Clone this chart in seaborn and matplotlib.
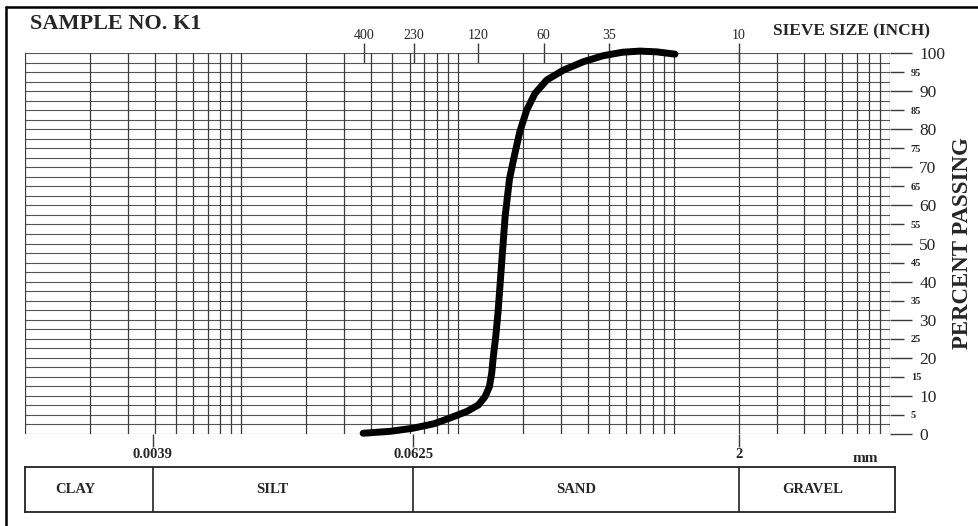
import matplotlib
matplotlib.use("Agg")
import matplotlib.pyplot as plt
import matplotlib.ticker as mticker
from matplotlib.lines import Line2D
import numpy as np
import pandas as pd
import seaborn as sns

# grain size curve
diameter_mm = [0.0366, 0.0488, 0.062, 0.078, 0.0923, 0.1103, 0.1248, 0.1341, 0.1404, 0.1439,
               0.1464, 0.1502, 0.154, 0.160, 0.166, 0.174, 0.184, 0.1945, 0.2089, 0.2283,
               0.2585, 0.3086, 0.3816, 0.4724, 0.58, 0.698, 0.834, 1.013]
percent_passing = [0.2, 0.7, 1.5, 2.7, 4.2, 5.9, 7.6, 9.8, 12.4, 15.9,
                   20.3, 25.5, 32.0, 44.8, 57.0, 67.0, 73.5, 79.5, 85.0, 89.4,
                   92.9, 95.5, 97.7, 99.3, 100.2, 100.5, 100.3, 99.7]

sieve_numbers = ["400", "230", "120", "60", "35", "10"]
sieve_mm = [0.037, 0.063, 0.125, 0.25, 0.5, 2.0]

class_bounds_mm = [0.0039, 0.0625, 2]
class_bound_labels = ["0.0039", "0.0625", "2"]
class_names = ["CLAY", "SILT", "SAND", "GRAVEL"]
class_label_mm = [0.0017, 0.0139, 0.354, 4.4]

pct_major = list(range(0, 101, 10))
pct_minor = list(range(5, 100, 10))

curve = pd.DataFrame({"diameter": diameter_mm, "passing": percent_passing})

sns.set_style("white")
plt.rcParams["font.family"] = ["Liberation Serif", "DejaVu Serif"]

W, H = 979, 526
fig = plt.figure(figsize=(W / 100, H / 100), dpi=100)
ax = fig.add_axes([25 / W, 1 - 434 / H, 865 / W, 381 / H])

grid_color = "#3a3a3a"
ax.set_xscale("log")
ax.set_xlim(0.001, 10)
ax.set_ylim(0, 100)

# log grid (vertical) and 2.5 % grid (horizontal)
ax.xaxis.set_minor_locator(mticker.LogLocator(base=10, subs=np.arange(1, 10), numticks=30))
ax.xaxis.set_minor_formatter(mticker.NullFormatter())
ax.xaxis.remove_overlapping_locs = False
ax.grid(which="minor", axis="x", color=grid_color, lw=0.9)
ax.hlines(np.arange(0, 100.1, 2.5), 0.001, 10, color="#555555", lw=0.8, zorder=0.5)

sns.lineplot(data=curve, x="diameter", y="passing", sort=False, estimator=None,
             color="black", lw=5, ax=ax, clip_on=False,
             solid_capstyle="round", solid_joinstyle="round", zorder=5)
ax.set_xlabel("")
ax.set_ylabel("")
for s in ax.spines.values():
    s.set_visible(False)

# bottom: class boundaries
ax.xaxis.set_major_locator(mticker.FixedLocator(class_bounds_mm))
ax.xaxis.set_major_formatter(mticker.FixedFormatter(class_bound_labels))
ax.tick_params(axis="x", which="major", length=9, width=1, color=grid_color,
               labelsize=10.5, pad=1, bottom=True)
ax.tick_params(axis="x", which="minor", length=0)
for lab in ax.get_xticklabels():
    lab.set_fontweight("bold")

# right: percent passing
ax.yaxis.tick_right()
ax.yaxis.set_major_locator(mticker.FixedLocator(pct_major))
ax.yaxis.set_minor_locator(mticker.FixedLocator(pct_minor))
ax.yaxis.set_major_formatter(mticker.FuncFormatter(lambda v, p: f"{v:g}"))
ax.yaxis.set_minor_formatter(mticker.FuncFormatter(lambda v, p: f"{v:g}"))
ax.tick_params(axis="y", which="major", right=True, length=16, width=1, color=grid_color,
               labelsize=12.5, pad=5)
ax.tick_params(axis="y", which="minor", right=True, length=10, width=1, color=grid_color,
               labelsize=7.5, pad=5)
for lab in ax.yaxis.get_minorticklabels():
    lab.set_fontweight("bold")

# top: sieve numbers
top = ax.secondary_xaxis("top")
top.xaxis.set_major_locator(mticker.FixedLocator(sieve_mm))
top.xaxis.set_major_formatter(mticker.FixedFormatter(sieve_numbers))
top.xaxis.set_minor_locator(mticker.NullLocator())
top.tick_params(axis="x", direction="inout", length=14, width=1, color=grid_color,
                labelsize=10, pad=1)
top.spines["top"].set_visible(False)

fig.text(30 / W, 1 - 24 / H, "SAMPLE NO. K1", fontsize=16, fontweight="bold",
         ha="left", va="center")
fig.text(773 / W, 1 - 31 / H, "SIEVE SIZE (INCH)", fontsize=12.5, fontweight="bold",
         ha="left", va="center")
fig.text(963 / W, 1 - 243 / H, "PERCENT PASSING", fontsize=16.5, fontweight="bold",
         rotation=90, ha="center", va="center")
fig.text(865 / W, 1 - 458 / H, "mm", fontsize=11, fontweight="bold", ha="center", va="center")

# classification strip
cls = fig.add_axes([25 / W, 1 - 512 / H, 870 / W, 45 / H])
cls.set_xscale("log")
cls.set_xlim(0.001, 10 * 10 ** (5 / 216.25))
cls.set_ylim(0, 1)
cls.set_xticks([])
cls.set_yticks([])
cls.minorticks_off()
for s in cls.spines.values():
    s.set_color("#222222")
    s.set_linewidth(1.3)
for b in class_bounds_mm:
    cls.axvline(b, color="#222222", lw=1.2)
for name, xm in zip(class_names, class_label_mm):
    cls.text(xm, 0.5, name, ha="center", va="center", fontsize=10.5, fontweight="bold")

# scan border
fig.add_artist(Line2D([6 / W, 6 / W], [0, 1 - 7 / H], color="black", lw=1.8))
fig.add_artist(Line2D([6 / W, 1], [1 - 7 / H, 1 - 7 / H], color="black", lw=1.8))

fig.savefig("out.png", dpi=100)
